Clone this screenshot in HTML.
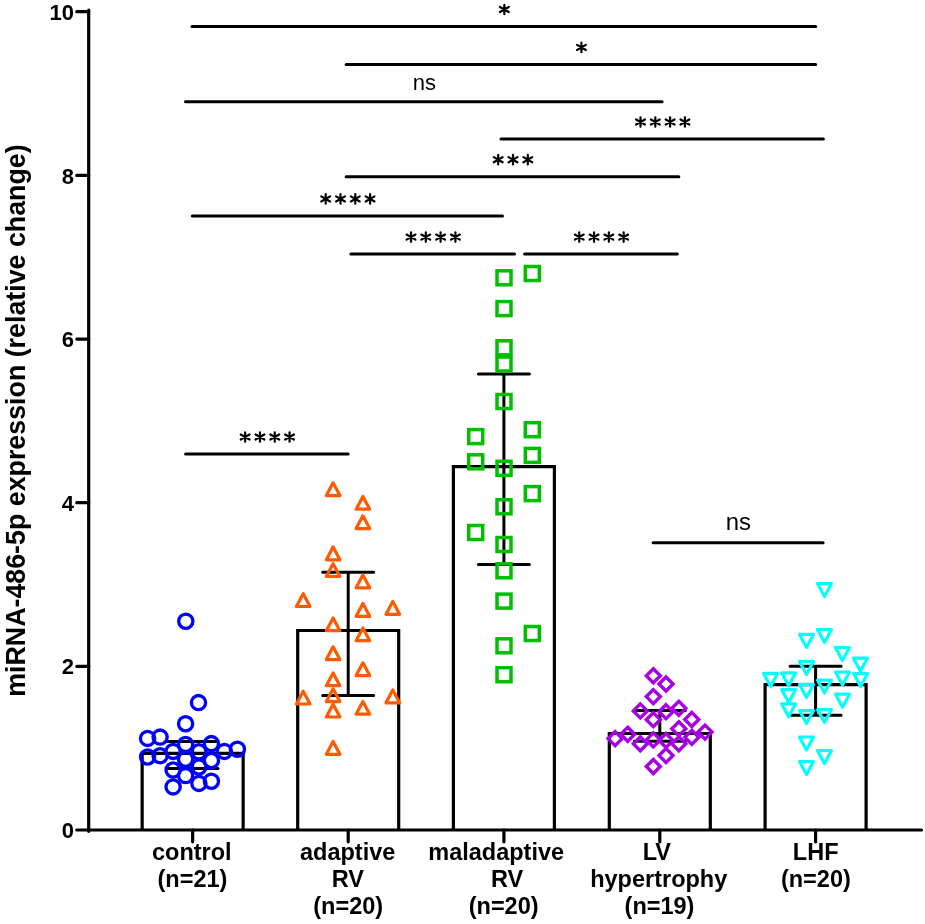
<!DOCTYPE html>
<html><head><meta charset="utf-8"><style>
html,body{margin:0;padding:0;background:#fff;width:925px;height:924px;overflow:hidden;}
body{position:relative;font-family:"Liberation Sans", sans-serif;-webkit-font-smoothing:antialiased;}
</style></head><body>
<svg width="925" height="924" viewBox="0 0 925 924" style="position:absolute;left:0;top:0;will-change:transform">
<path d="M142.15,830 V753.4 H243.15 V830" fill="none" stroke="#000" stroke-width="3.2" stroke-linejoin="miter"/>
<path d="M297.70,830 V630.5 H398.70 V830" fill="none" stroke="#000" stroke-width="3.2" stroke-linejoin="miter"/>
<path d="M453.40,830 V466.6 H554.40 V830" fill="none" stroke="#000" stroke-width="3.2" stroke-linejoin="miter"/>
<path d="M609.30,830 V733.5 H710.30 V830" fill="none" stroke="#000" stroke-width="3.2" stroke-linejoin="miter"/>
<path d="M765.10,830 V684.7 H866.10 V830" fill="none" stroke="#000" stroke-width="3.2" stroke-linejoin="miter"/>
<path d="M192.65,741.6 V768.5 M167.15,741.6 H218.15 M167.15,768.5 H218.15" fill="none" stroke="#000" stroke-width="3" stroke-linecap="round"/>
<path d="M348.20,572.2 V695.6 M322.70,572.2 H373.70 M322.70,695.6 H373.70" fill="none" stroke="#000" stroke-width="3" stroke-linecap="round"/>
<path d="M503.90,373.9 V564.4 M478.40,373.9 H529.40 M478.40,564.4 H529.40" fill="none" stroke="#000" stroke-width="3" stroke-linecap="round"/>
<path d="M659.80,710.5 V741.3 M634.30,710.5 H685.30 M634.30,741.3 H685.30" fill="none" stroke="#000" stroke-width="3" stroke-linecap="round"/>
<path d="M815.60,666.2 V715.2 M790.10,666.2 H841.10 M790.10,715.2 H841.10" fill="none" stroke="#000" stroke-width="3" stroke-linecap="round"/>
<path d="M88.7,10.2 V831.3 M88.7,830 H921.5" fill="none" stroke="#000" stroke-width="3.2" stroke-linecap="round"/>
<path d="M76.8,830.0 H88.7" stroke="#000" stroke-width="3.2" stroke-linecap="round"/>
<text x="74" y="838.1" text-anchor="end" font-family='"Liberation Sans", sans-serif' font-weight="bold" font-size="22">0</text>
<path d="M76.8,666.3 H88.7" stroke="#000" stroke-width="3.2" stroke-linecap="round"/>
<text x="74" y="674.4" text-anchor="end" font-family='"Liberation Sans", sans-serif' font-weight="bold" font-size="22">2</text>
<path d="M76.8,502.7 H88.7" stroke="#000" stroke-width="3.2" stroke-linecap="round"/>
<text x="74" y="510.8" text-anchor="end" font-family='"Liberation Sans", sans-serif' font-weight="bold" font-size="22">4</text>
<path d="M76.8,339.1 H88.7" stroke="#000" stroke-width="3.2" stroke-linecap="round"/>
<text x="74" y="347.2" text-anchor="end" font-family='"Liberation Sans", sans-serif' font-weight="bold" font-size="22">6</text>
<path d="M76.8,175.4 H88.7" stroke="#000" stroke-width="3.2" stroke-linecap="round"/>
<text x="74" y="183.5" text-anchor="end" font-family='"Liberation Sans", sans-serif' font-weight="bold" font-size="22">8</text>
<path d="M76.8,11.7 H88.7" stroke="#000" stroke-width="3.2" stroke-linecap="round"/>
<text x="74" y="19.8" text-anchor="end" font-family='"Liberation Sans", sans-serif' font-weight="bold" font-size="22">10</text>
<path d="M192.65,830 V841.8" stroke="#000" stroke-width="3.2" stroke-linecap="round"/>
<path d="M348.20,830 V841.8" stroke="#000" stroke-width="3.2" stroke-linecap="round"/>
<path d="M503.90,830 V841.8" stroke="#000" stroke-width="3.2" stroke-linecap="round"/>
<path d="M659.80,830 V841.8" stroke="#000" stroke-width="3.2" stroke-linecap="round"/>
<path d="M815.60,830 V841.8" stroke="#000" stroke-width="3.2" stroke-linecap="round"/>
<circle cx="185.8" cy="621.2" r="7.1" fill="none" stroke="#0000FF" stroke-width="3.3"/>
<circle cx="198.5" cy="702.6" r="7.1" fill="none" stroke="#0000FF" stroke-width="3.3"/>
<circle cx="185.6" cy="723.7" r="7.1" fill="none" stroke="#0000FF" stroke-width="3.3"/>
<circle cx="147.6" cy="738.4" r="7.1" fill="none" stroke="#0000FF" stroke-width="3.3"/>
<circle cx="160.1" cy="737.1" r="7.1" fill="none" stroke="#0000FF" stroke-width="3.3"/>
<circle cx="147.6" cy="757.0" r="7.1" fill="none" stroke="#0000FF" stroke-width="3.3"/>
<circle cx="160.1" cy="755.7" r="7.1" fill="none" stroke="#0000FF" stroke-width="3.3"/>
<circle cx="173.1" cy="751.4" r="7.1" fill="none" stroke="#0000FF" stroke-width="3.3"/>
<circle cx="185.6" cy="744.4" r="7.1" fill="none" stroke="#0000FF" stroke-width="3.3"/>
<circle cx="185.6" cy="759.2" r="7.1" fill="none" stroke="#0000FF" stroke-width="3.3"/>
<circle cx="173.1" cy="770.0" r="7.1" fill="none" stroke="#0000FF" stroke-width="3.3"/>
<circle cx="185.6" cy="775.6" r="7.1" fill="none" stroke="#0000FF" stroke-width="3.3"/>
<circle cx="173.1" cy="786.9" r="7.1" fill="none" stroke="#0000FF" stroke-width="3.3"/>
<circle cx="198.9" cy="751.8" r="7.1" fill="none" stroke="#0000FF" stroke-width="3.3"/>
<circle cx="211.4" cy="743.6" r="7.1" fill="none" stroke="#0000FF" stroke-width="3.3"/>
<circle cx="211.4" cy="760.5" r="7.1" fill="none" stroke="#0000FF" stroke-width="3.3"/>
<circle cx="198.9" cy="767.0" r="7.1" fill="none" stroke="#0000FF" stroke-width="3.3"/>
<circle cx="198.9" cy="783.4" r="7.1" fill="none" stroke="#0000FF" stroke-width="3.3"/>
<circle cx="211.4" cy="781.2" r="7.1" fill="none" stroke="#0000FF" stroke-width="3.3"/>
<circle cx="224.4" cy="751.4" r="7.1" fill="none" stroke="#0000FF" stroke-width="3.3"/>
<circle cx="237.4" cy="749.2" r="7.1" fill="none" stroke="#0000FF" stroke-width="3.3"/>
<path d="M333.1,482.80 L339.90,495.60 L326.30,495.60Z" fill="none" stroke="#FF5A00" stroke-width="3.2" stroke-linejoin="round"/>
<path d="M362.9,496.40 L369.70,509.20 L356.10,509.20Z" fill="none" stroke="#FF5A00" stroke-width="3.2" stroke-linejoin="round"/>
<path d="M362.9,515.80 L369.70,528.60 L356.10,528.60Z" fill="none" stroke="#FF5A00" stroke-width="3.2" stroke-linejoin="round"/>
<path d="M333.1,547.00 L339.90,559.80 L326.30,559.80Z" fill="none" stroke="#FF5A00" stroke-width="3.2" stroke-linejoin="round"/>
<path d="M333.1,563.70 L339.90,576.50 L326.30,576.50Z" fill="none" stroke="#FF5A00" stroke-width="3.2" stroke-linejoin="round"/>
<path d="M362.9,575.00 L369.70,587.80 L356.10,587.80Z" fill="none" stroke="#FF5A00" stroke-width="3.2" stroke-linejoin="round"/>
<path d="M303.2,593.70 L310.00,606.50 L296.40,606.50Z" fill="none" stroke="#FF5A00" stroke-width="3.2" stroke-linejoin="round"/>
<path d="M362.9,603.50 L369.70,616.30 L356.10,616.30Z" fill="none" stroke="#FF5A00" stroke-width="3.2" stroke-linejoin="round"/>
<path d="M392.8,601.50 L399.60,614.30 L386.00,614.30Z" fill="none" stroke="#FF5A00" stroke-width="3.2" stroke-linejoin="round"/>
<path d="M333.1,617.90 L339.90,630.70 L326.30,630.70Z" fill="none" stroke="#FF5A00" stroke-width="3.2" stroke-linejoin="round"/>
<path d="M362.9,627.90 L369.70,640.70 L356.10,640.70Z" fill="none" stroke="#FF5A00" stroke-width="3.2" stroke-linejoin="round"/>
<path d="M333.1,646.80 L339.90,659.60 L326.30,659.60Z" fill="none" stroke="#FF5A00" stroke-width="3.2" stroke-linejoin="round"/>
<path d="M362.9,662.80 L369.70,675.60 L356.10,675.60Z" fill="none" stroke="#FF5A00" stroke-width="3.2" stroke-linejoin="round"/>
<path d="M333.1,672.90 L339.90,685.70 L326.30,685.70Z" fill="none" stroke="#FF5A00" stroke-width="3.2" stroke-linejoin="round"/>
<path d="M303.2,691.20 L310.00,704.00 L296.40,704.00Z" fill="none" stroke="#FF5A00" stroke-width="3.2" stroke-linejoin="round"/>
<path d="M333.1,688.80 L339.90,701.60 L326.30,701.60Z" fill="none" stroke="#FF5A00" stroke-width="3.2" stroke-linejoin="round"/>
<path d="M392.8,690.00 L399.60,702.80 L386.00,702.80Z" fill="none" stroke="#FF5A00" stroke-width="3.2" stroke-linejoin="round"/>
<path d="M362.9,701.40 L369.70,714.20 L356.10,714.20Z" fill="none" stroke="#FF5A00" stroke-width="3.2" stroke-linejoin="round"/>
<path d="M333.1,704.20 L339.90,717.00 L326.30,717.00Z" fill="none" stroke="#FF5A00" stroke-width="3.2" stroke-linejoin="round"/>
<path d="M333.1,741.50 L339.90,754.30 L326.30,754.30Z" fill="none" stroke="#FF5A00" stroke-width="3.2" stroke-linejoin="round"/>
<rect x="497.00" y="270.80" width="14" height="14" fill="none" stroke="#00BE00" stroke-width="3.5"/>
<rect x="525.30" y="266.50" width="14" height="14" fill="none" stroke="#00BE00" stroke-width="3.5"/>
<rect x="497.00" y="301.60" width="14" height="14" fill="none" stroke="#00BE00" stroke-width="3.5"/>
<rect x="497.00" y="340.80" width="14" height="14" fill="none" stroke="#00BE00" stroke-width="3.5"/>
<rect x="497.00" y="357.00" width="14" height="14" fill="none" stroke="#00BE00" stroke-width="3.5"/>
<rect x="497.00" y="394.50" width="14" height="14" fill="none" stroke="#00BE00" stroke-width="3.5"/>
<rect x="525.30" y="422.70" width="14" height="14" fill="none" stroke="#00BE00" stroke-width="3.5"/>
<rect x="468.70" y="429.60" width="14" height="14" fill="none" stroke="#00BE00" stroke-width="3.5"/>
<rect x="468.70" y="454.80" width="14" height="14" fill="none" stroke="#00BE00" stroke-width="3.5"/>
<rect x="525.30" y="448.40" width="14" height="14" fill="none" stroke="#00BE00" stroke-width="3.5"/>
<rect x="497.00" y="461.30" width="14" height="14" fill="none" stroke="#00BE00" stroke-width="3.5"/>
<rect x="525.30" y="486.60" width="14" height="14" fill="none" stroke="#00BE00" stroke-width="3.5"/>
<rect x="497.00" y="499.80" width="14" height="14" fill="none" stroke="#00BE00" stroke-width="3.5"/>
<rect x="468.70" y="525.50" width="14" height="14" fill="none" stroke="#00BE00" stroke-width="3.5"/>
<rect x="497.00" y="537.50" width="14" height="14" fill="none" stroke="#00BE00" stroke-width="3.5"/>
<rect x="497.00" y="563.80" width="14" height="14" fill="none" stroke="#00BE00" stroke-width="3.5"/>
<rect x="497.00" y="594.10" width="14" height="14" fill="none" stroke="#00BE00" stroke-width="3.5"/>
<rect x="525.30" y="626.50" width="14" height="14" fill="none" stroke="#00BE00" stroke-width="3.5"/>
<rect x="497.00" y="638.80" width="14" height="14" fill="none" stroke="#00BE00" stroke-width="3.5"/>
<rect x="497.00" y="667.70" width="14" height="14" fill="none" stroke="#00BE00" stroke-width="3.5"/>
<path d="M653.3,668.80 L660.30,675.8 L653.3,682.80 L646.30,675.8Z" fill="none" stroke="#A600E4" stroke-width="3.4"/>
<path d="M666.0,677.00 L673.00,684.0 L666.0,691.00 L659.00,684.0Z" fill="none" stroke="#A600E4" stroke-width="3.4"/>
<path d="M653.3,689.60 L660.30,696.6 L653.3,703.60 L646.30,696.6Z" fill="none" stroke="#A600E4" stroke-width="3.4"/>
<path d="M640.3,703.90 L647.30,710.9 L640.3,717.90 L633.30,710.9Z" fill="none" stroke="#A600E4" stroke-width="3.4"/>
<path d="M666.0,704.70 L673.00,711.7 L666.0,718.70 L659.00,711.7Z" fill="none" stroke="#A600E4" stroke-width="3.4"/>
<path d="M678.8,701.30 L685.80,708.3 L678.8,715.30 L671.80,708.3Z" fill="none" stroke="#A600E4" stroke-width="3.4"/>
<path d="M653.3,712.70 L660.30,719.7 L653.3,726.70 L646.30,719.7Z" fill="none" stroke="#A600E4" stroke-width="3.4"/>
<path d="M691.8,712.50 L698.80,719.5 L691.8,726.50 L684.80,719.5Z" fill="none" stroke="#A600E4" stroke-width="3.4"/>
<path d="M678.8,721.80 L685.80,728.8 L678.8,735.80 L671.80,728.8Z" fill="none" stroke="#A600E4" stroke-width="3.4"/>
<path d="M627.7,727.30 L634.70,734.3 L627.7,741.30 L620.70,734.3Z" fill="none" stroke="#A600E4" stroke-width="3.4"/>
<path d="M705.0,725.10 L712.00,732.1 L705.0,739.10 L698.00,732.1Z" fill="none" stroke="#A600E4" stroke-width="3.4"/>
<path d="M615.1,731.60 L622.10,738.6 L615.1,745.60 L608.10,738.6Z" fill="none" stroke="#A600E4" stroke-width="3.4"/>
<path d="M640.3,736.80 L647.30,743.8 L640.3,750.80 L633.30,743.8Z" fill="none" stroke="#A600E4" stroke-width="3.4"/>
<path d="M653.3,732.90 L660.30,739.9 L653.3,746.90 L646.30,739.9Z" fill="none" stroke="#A600E4" stroke-width="3.4"/>
<path d="M666.0,733.50 L673.00,740.5 L666.0,747.50 L659.00,740.5Z" fill="none" stroke="#A600E4" stroke-width="3.4"/>
<path d="M678.8,736.80 L685.80,743.8 L678.8,750.80 L671.80,743.8Z" fill="none" stroke="#A600E4" stroke-width="3.4"/>
<path d="M691.8,730.30 L698.80,737.3 L691.8,744.30 L684.80,737.3Z" fill="none" stroke="#A600E4" stroke-width="3.4"/>
<path d="M666.0,748.50 L673.00,755.5 L666.0,762.50 L659.00,755.5Z" fill="none" stroke="#A600E4" stroke-width="3.4"/>
<path d="M653.3,759.50 L660.30,766.5 L653.3,773.50 L646.30,766.5Z" fill="none" stroke="#A600E4" stroke-width="3.4"/>
<path d="M817.50,583.60 L831.50,583.60 L824.5,596.60Z" fill="none" stroke="#00FFFF" stroke-width="3.2" stroke-linejoin="round"/>
<path d="M817.50,629.50 L831.50,629.50 L824.5,642.50Z" fill="none" stroke="#00FFFF" stroke-width="3.2" stroke-linejoin="round"/>
<path d="M799.50,634.40 L813.50,634.40 L806.5,647.40Z" fill="none" stroke="#00FFFF" stroke-width="3.2" stroke-linejoin="round"/>
<path d="M835.40,647.50 L849.40,647.50 L842.4,660.50Z" fill="none" stroke="#00FFFF" stroke-width="3.2" stroke-linejoin="round"/>
<path d="M853.40,658.20 L867.40,658.20 L860.4,671.20Z" fill="none" stroke="#00FFFF" stroke-width="3.2" stroke-linejoin="round"/>
<path d="M799.50,661.40 L813.50,661.40 L806.5,674.40Z" fill="none" stroke="#00FFFF" stroke-width="3.2" stroke-linejoin="round"/>
<path d="M763.60,673.40 L777.60,673.40 L770.6,686.40Z" fill="none" stroke="#00FFFF" stroke-width="3.2" stroke-linejoin="round"/>
<path d="M781.60,672.80 L795.60,672.80 L788.6,685.80Z" fill="none" stroke="#00FFFF" stroke-width="3.2" stroke-linejoin="round"/>
<path d="M835.50,672.00 L849.50,672.00 L842.5,685.00Z" fill="none" stroke="#00FFFF" stroke-width="3.2" stroke-linejoin="round"/>
<path d="M853.60,673.50 L867.60,673.50 L860.6,686.50Z" fill="none" stroke="#00FFFF" stroke-width="3.2" stroke-linejoin="round"/>
<path d="M799.50,684.40 L813.50,684.40 L806.5,697.40Z" fill="none" stroke="#00FFFF" stroke-width="3.2" stroke-linejoin="round"/>
<path d="M817.50,680.10 L831.50,680.10 L824.5,693.10Z" fill="none" stroke="#00FFFF" stroke-width="3.2" stroke-linejoin="round"/>
<path d="M781.60,689.60 L795.60,689.60 L788.6,702.60Z" fill="none" stroke="#00FFFF" stroke-width="3.2" stroke-linejoin="round"/>
<path d="M835.50,694.20 L849.50,694.20 L842.5,707.20Z" fill="none" stroke="#00FFFF" stroke-width="3.2" stroke-linejoin="round"/>
<path d="M781.60,703.80 L795.60,703.80 L788.6,716.80Z" fill="none" stroke="#00FFFF" stroke-width="3.2" stroke-linejoin="round"/>
<path d="M799.50,710.60 L813.50,710.60 L806.5,723.60Z" fill="none" stroke="#00FFFF" stroke-width="3.2" stroke-linejoin="round"/>
<path d="M817.50,709.60 L831.50,709.60 L824.5,722.60Z" fill="none" stroke="#00FFFF" stroke-width="3.2" stroke-linejoin="round"/>
<path d="M799.50,737.00 L813.50,737.00 L806.5,750.00Z" fill="none" stroke="#00FFFF" stroke-width="3.2" stroke-linejoin="round"/>
<path d="M817.50,750.50 L831.50,750.50 L824.5,763.50Z" fill="none" stroke="#00FFFF" stroke-width="3.2" stroke-linejoin="round"/>
<path d="M799.50,761.60 L813.50,761.60 L806.5,774.60Z" fill="none" stroke="#00FFFF" stroke-width="3.2" stroke-linejoin="round"/>
<path d="M192.0,26.5 H815.7" stroke="#000" stroke-width="3" stroke-linecap="round"/>
<path d="M504.35,14.25 L504.35,4.75 M499.93,12.05 L508.77,6.95 M499.93,6.95 L508.77,12.05" stroke="#000" stroke-width="2.2" stroke-linecap="round"/>
<path d="M346.2,64.4 H815.7" stroke="#000" stroke-width="3" stroke-linecap="round"/>
<path d="M581.45,52.15 L581.45,42.65 M577.03,49.95 L585.87,44.85 M577.03,44.85 L585.87,49.95" stroke="#000" stroke-width="2.2" stroke-linecap="round"/>
<path d="M185.5,101.8 H662.1" stroke="#000" stroke-width="3" stroke-linecap="round"/>
<text x="424.3" y="89.7" text-anchor="middle" font-family='"Liberation Sans", sans-serif' font-size="22">ns</text>
<path d="M501.0,139.0 H823.4" stroke="#000" stroke-width="3" stroke-linecap="round"/>
<path d="M640.50,126.75 L640.50,117.25 M636.08,124.55 L644.92,119.45 M636.08,119.45 L644.92,124.55" stroke="#000" stroke-width="2.2" stroke-linecap="round"/>
<path d="M655.30,126.75 L655.30,117.25 M650.88,124.55 L659.72,119.45 M650.88,119.45 L659.72,124.55" stroke="#000" stroke-width="2.2" stroke-linecap="round"/>
<path d="M670.10,126.75 L670.10,117.25 M665.68,124.55 L674.52,119.45 M665.68,119.45 L674.52,124.55" stroke="#000" stroke-width="2.2" stroke-linecap="round"/>
<path d="M684.90,126.75 L684.90,117.25 M680.48,124.55 L689.32,119.45 M680.48,119.45 L689.32,124.55" stroke="#000" stroke-width="2.2" stroke-linecap="round"/>
<path d="M346.2,176.7 H678.8" stroke="#000" stroke-width="3" stroke-linecap="round"/>
<path d="M498.20,164.45 L498.20,154.95 M493.78,162.25 L502.62,157.15 M493.78,157.15 L502.62,162.25" stroke="#000" stroke-width="2.2" stroke-linecap="round"/>
<path d="M513.00,164.45 L513.00,154.95 M508.58,162.25 L517.42,157.15 M508.58,157.15 L517.42,162.25" stroke="#000" stroke-width="2.2" stroke-linecap="round"/>
<path d="M527.80,164.45 L527.80,154.95 M523.38,162.25 L532.22,157.15 M523.38,157.15 L532.22,162.25" stroke="#000" stroke-width="2.2" stroke-linecap="round"/>
<path d="M192.3,215.9 H502.5" stroke="#000" stroke-width="3" stroke-linecap="round"/>
<path d="M325.70,203.65 L325.70,194.15 M321.28,201.45 L330.12,196.35 M321.28,196.35 L330.12,201.45" stroke="#000" stroke-width="2.2" stroke-linecap="round"/>
<path d="M340.50,203.65 L340.50,194.15 M336.08,201.45 L344.92,196.35 M336.08,196.35 L344.92,201.45" stroke="#000" stroke-width="2.2" stroke-linecap="round"/>
<path d="M355.30,203.65 L355.30,194.15 M350.88,201.45 L359.72,196.35 M350.88,196.35 L359.72,201.45" stroke="#000" stroke-width="2.2" stroke-linecap="round"/>
<path d="M370.10,203.65 L370.10,194.15 M365.68,201.45 L374.52,196.35 M365.68,196.35 L374.52,201.45" stroke="#000" stroke-width="2.2" stroke-linecap="round"/>
<path d="M350.9,254.1 H514.5" stroke="#000" stroke-width="3" stroke-linecap="round"/>
<path d="M411.00,241.85 L411.00,232.35 M406.58,239.65 L415.42,234.55 M406.58,234.55 L415.42,239.65" stroke="#000" stroke-width="2.2" stroke-linecap="round"/>
<path d="M425.80,241.85 L425.80,232.35 M421.38,239.65 L430.22,234.55 M421.38,234.55 L430.22,239.65" stroke="#000" stroke-width="2.2" stroke-linecap="round"/>
<path d="M440.60,241.85 L440.60,232.35 M436.18,239.65 L445.02,234.55 M436.18,234.55 L445.02,239.65" stroke="#000" stroke-width="2.2" stroke-linecap="round"/>
<path d="M455.40,241.85 L455.40,232.35 M450.98,239.65 L459.82,234.55 M450.98,234.55 L459.82,239.65" stroke="#000" stroke-width="2.2" stroke-linecap="round"/>
<path d="M524.6,254.1 H677.3" stroke="#000" stroke-width="3" stroke-linecap="round"/>
<path d="M579.25,241.85 L579.25,232.35 M574.83,239.65 L583.67,234.55 M574.83,234.55 L583.67,239.65" stroke="#000" stroke-width="2.2" stroke-linecap="round"/>
<path d="M594.05,241.85 L594.05,232.35 M589.63,239.65 L598.47,234.55 M589.63,234.55 L598.47,239.65" stroke="#000" stroke-width="2.2" stroke-linecap="round"/>
<path d="M608.85,241.85 L608.85,232.35 M604.43,239.65 L613.27,234.55 M604.43,234.55 L613.27,239.65" stroke="#000" stroke-width="2.2" stroke-linecap="round"/>
<path d="M623.65,241.85 L623.65,232.35 M619.23,239.65 L628.07,234.55 M619.23,234.55 L628.07,239.65" stroke="#000" stroke-width="2.2" stroke-linecap="round"/>
<path d="M185.6,454.0 H348.1" stroke="#000" stroke-width="3" stroke-linecap="round"/>
<path d="M245.15,441.75 L245.15,432.25 M240.73,439.55 L249.57,434.45 M240.73,434.45 L249.57,439.55" stroke="#000" stroke-width="2.2" stroke-linecap="round"/>
<path d="M259.95,441.75 L259.95,432.25 M255.53,439.55 L264.37,434.45 M255.53,434.45 L264.37,439.55" stroke="#000" stroke-width="2.2" stroke-linecap="round"/>
<path d="M274.75,441.75 L274.75,432.25 M270.33,439.55 L279.17,434.45 M270.33,434.45 L279.17,439.55" stroke="#000" stroke-width="2.2" stroke-linecap="round"/>
<path d="M289.55,441.75 L289.55,432.25 M285.13,439.55 L293.97,434.45 M285.13,434.45 L293.97,439.55" stroke="#000" stroke-width="2.2" stroke-linecap="round"/>
<path d="M653.1,542.7 H823.1" stroke="#000" stroke-width="3" stroke-linecap="round"/>
<text x="738.45" y="530" text-anchor="middle" font-family='"Liberation Sans", sans-serif' font-size="23.9">ns</text>
<text x="191.85" y="860.1" text-anchor="middle" font-family='"Liberation Sans", sans-serif' font-weight="bold" font-size="23.5">control</text>
<text x="192.45" y="887" text-anchor="middle" font-family='"Liberation Sans", sans-serif' font-weight="bold" font-size="23.5">(n=21)</text>
<text x="347.70" y="860.1" text-anchor="middle" font-family='"Liberation Sans", sans-serif' font-weight="bold" font-size="23.5">adaptive</text>
<text x="347.75" y="887" text-anchor="middle" font-family='"Liberation Sans", sans-serif' font-weight="bold" font-size="23.5">RV</text>
<text x="348.20" y="913.6" text-anchor="middle" font-family='"Liberation Sans", sans-serif' font-weight="bold" font-size="23.5">(n=20)</text>
<text x="496.20" y="860.1" text-anchor="middle" font-family='"Liberation Sans", sans-serif' font-weight="bold" font-size="23.5">maladaptive</text>
<text x="507.05" y="887" text-anchor="middle" font-family='"Liberation Sans", sans-serif' font-weight="bold" font-size="23.5">RV</text>
<text x="503.65" y="913.6" text-anchor="middle" font-family='"Liberation Sans", sans-serif' font-weight="bold" font-size="23.5">(n=20)</text>
<text x="656.80" y="860.1" text-anchor="middle" font-family='"Liberation Sans", sans-serif' font-weight="bold" font-size="23.5">LV</text>
<text x="658.75" y="887" text-anchor="middle" font-family='"Liberation Sans", sans-serif' font-weight="bold" font-size="23.5">hypertrophy</text>
<text x="659.50" y="913.6" text-anchor="middle" font-family='"Liberation Sans", sans-serif' font-weight="bold" font-size="23.5">(n=19)</text>
<text x="815.70" y="860.1" text-anchor="middle" font-family='"Liberation Sans", sans-serif' font-weight="bold" font-size="23.5">LHF</text>
<text x="815.85" y="887" text-anchor="middle" font-family='"Liberation Sans", sans-serif' font-weight="bold" font-size="23.5">(n=20)</text>
<text transform="translate(24.7,420.6) rotate(-90)" x="0" y="0" text-anchor="middle" font-family='"Liberation Sans", sans-serif' font-weight="bold" font-size="26.8">miRNA-486-5p expression (relative change)</text>
</svg>
</body></html>
